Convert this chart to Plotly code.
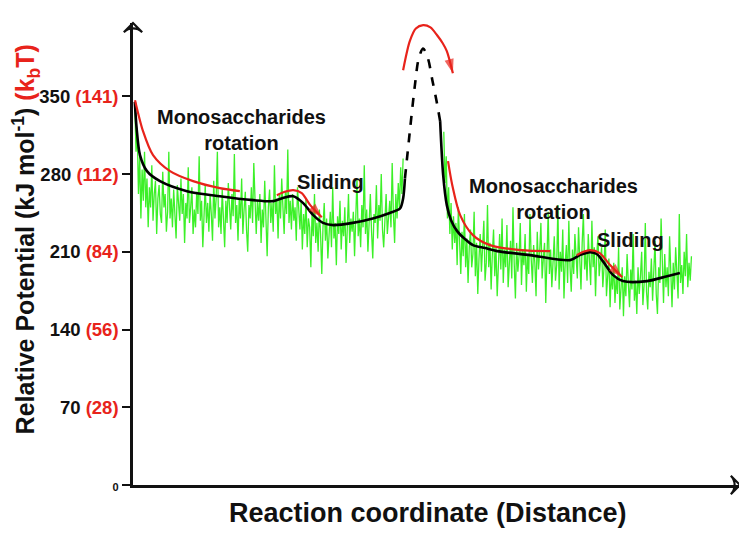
import numpy as np
import plotly.graph_objects as go

# ---------------- data ----------------
# noisy potential (green), segment before the barrier
green1_x_start, green1_x_step = 0.3, 0.2
green1 = [340, 300, 318, 262, 296, 240, 284, 256, 300, 250,
          276, 232, 268, 250, 288, 238, 262, 274, 226, 258,
          270, 244, 236, 282, 250, 262, 228, 246, 300, 240,
          258, 232, 266, 246, 222, 270, 252, 238, 276, 244,
          262, 218, 254, 240, 286, 236, 250, 268, 226, 248,
          232, 264, 244, 296, 238, 256, 214, 250, 270, 236,
          254, 228, 262, 244, 220, 274, 240, 258, 300, 232,
          250, 226, 266, 240, 214, 256, 236, 272, 248, 230,
          262, 242, 298, 236, 252, 220, 258, 240, 276, 226,
          248, 264, 230, 210, 252, 240, 268, 236, 290, 244,
          226, 256, 238, 262, 218, 248, 232, 274, 240, 206,
          250, 266, 236, 254, 228, 288, 244, 258, 222, 262,
          240, 276, 250, 226, 264, 244, 302, 236, 256, 230,
          262, 238, 250, 220, 268, 242, 230, 256, 212, 244,
          226, 258, 214, 240, 232, 196, 246, 224, 262, 218,
          236, 210, 248, 226, 190, 232, 254, 220, 240, 204,
          228, 246, 214, 268, 222, 236, 198, 242, 226, 256,
          212, 238, 224, 250, 200, 232, 262, 218, 240, 228,
          246, 206, 236, 276, 224, 240, 214, 252, 232, 288,
          226, 248, 210, 240, 262, 228, 204, 244, 236, 270,
          222, 252, 238, 280, 230, 214, 246, 262, 226, 240,
          256, 232, 290, 244, 218, 262, 240, 272, 250, 286,
          262, 294]
# noisy potential (green), segment after the barrier
green2_x_start, green2_x_step = 51.2, 0.2
green2 = [318, 272, 296, 240, 268, 226, 254, 212, 242, 218,
          236, 198, 250, 214, 190, 228, 206, 244, 196, 222,
          182, 214, 230, 196, 208, 246, 188, 218, 172, 204,
          226, 192, 210, 238, 184, 200, 252, 196, 218, 176,
          208, 230, 188, 214, 170, 202, 226, 194, 240, 182,
          212, 196, 234, 178, 206, 220, 186, 250, 200, 168,
          218, 192, 206, 236, 180, 212, 198, 226, 174, 208,
          190, 244, 204, 182, 216, 200, 170, 228, 194, 210,
          236, 186, 204, 218, 164, 200, 246, 190, 212, 178,
          206, 224, 184, 198, 252, 176, 210, 192, 230, 168,
          200, 216, 182, 238, 196, 174, 212, 190, 226, 204,
          186, 232, 208, 176, 218, 244, 194, 210, 184, 226,
          202, 180, 238, 196, 214, 170, 208, 224, 188, 200,
          214, 178, 196, 230, 170, 188, 204, 160, 192, 176,
          200, 164, 186, 172, 214, 158, 180, 196, 152, 188,
          170, 208, 182, 160, 194, 176, 226, 166, 184, 154,
          196, 172, 188, 210, 162, 180, 236, 174, 158, 192,
          178, 204, 166, 188, 220, 172, 154, 196, 182, 240,
          186, 164, 208, 178, 196, 170, 224, 184, 160, 200,
          176, 214, 190, 168, 244, 182, 198, 172, 210, 188,
          226, 178, 200, 184, 206]

# smoothed potential (black)
smooth1_x = [0.3, 0.6, 1.15, 2.3, 4.45, 8.9, 14.3, 19.8, 23.1, 24.7, 26.4, 28.0, 29.7, 31.3, 33.0, 36.2, 39.5, 42.3, 44.0, 44.5, 44.8]
smooth1_y = [345, 321, 297, 282.6, 273.6, 264.6, 260, 256.5, 255.6, 258.4, 260, 254, 243, 236, 234, 236, 240, 245, 249, 258, 276]
smooth2_x = [50.6, 51.1, 51.7, 52.4, 53.4, 54.7, 56.0, 58.0, 60.0, 65.4, 72.0, 73.6, 75.3, 76.4, 77.4, 79.1, 80.7, 84.7, 88.0, 90.1]
smooth2_y = [327.6, 279, 252, 238.5, 228.6, 221.4, 216, 213.3, 210.6, 207, 202.5, 207, 209.7, 208, 201.6, 189, 183.6, 183.6, 188, 190.8]

# transition barrier (dashed)
barrier_x = [44.8, 45.6, 46.4, 47.1, 47.8, 48.6, 49.3, 50.0, 50.6]
barrier_y = [276, 318, 358, 385, 393, 384, 365, 346, 327.6]

# red process arrows
rot1_x = [0.33, 1.65, 3.3, 6.1, 9.9, 14.3, 17.6]
rot1_y = [346.5, 318.6, 297, 282.6, 273.6, 267.3, 264.6]
slide1_x = [23.7, 25.0, 26.4, 27.8, 29.2, 31.1]
slide1_y = [261, 264, 265.5, 262.8, 252, 241]
demeth_x = [44.5, 45.6, 46.6, 47.8, 49.0, 50.1, 51.0, 51.7, 52.7]
demeth_y = [373.5, 399.6, 411, 414, 412, 405, 398, 390.6, 370.8]
rot2_x = [51.9, 52.6, 53.9, 56.0, 58.8, 63.8, 68.7]
rot2_y = [291.6, 270, 243, 225, 216, 211.5, 210.6]
slide2_x = [73.1, 74.2, 75.3, 76.9, 78.6, 80.6]
slide2_y = [207, 210, 211.5, 208.8, 198, 187]

# axis ticks
tick_vals = [0, 70, 140, 210, 280, 350]
tick_kj = ["0", "70", "140", "210", "280", "350"]
tick_kbt = ["", "28", "56", "84", "112", "141"]

# ---------------- figure ----------------
RED = "#e8231b"
GREEN = "rgb(60,240,40)"
INK = "#111"
FONT = "Arial, Liberation Sans, sans-serif"
Y_MAX, X_MAX = 416, 100

g1x = green1_x_start + green1_x_step * np.arange(len(green1))
g2x = green2_x_start + green2_x_step * np.arange(len(green2))

fig = go.Figure()
for gx, gy in [(g1x, green1), (g2x, green2)]:
    fig.add_trace(go.Scatter(x=gx, y=gy, mode="lines", line=dict(color=GREEN, width=1.3), hoverinfo="skip"))

for xs, ys in [(smooth1_x, smooth1_y), (smooth2_x, smooth2_y)]:
    fig.add_trace(go.Scatter(x=xs, y=ys, mode="lines",
                             line=dict(color="black", width=2.6, shape="spline", smoothing=0.8)))
fig.add_trace(go.Scatter(x=barrier_x, y=barrier_y, mode="lines",
                         line=dict(color="black", width=2.6, dash="dash", shape="spline", smoothing=0.8)))

for xs, ys, head in [(rot1_x, rot1_y, False), (slide1_x, slide1_y, True), (demeth_x, demeth_y, True),
                     (rot2_x, rot2_y, False), (slide2_x, slide2_y, True)]:
    fig.add_trace(go.Scatter(x=xs, y=ys, mode="lines",
                             line=dict(color=RED, width=2.2, shape="spline", smoothing=0.8)))
    if head:
        fig.add_trace(go.Scatter(x=xs[-2:], y=ys[-2:], mode="markers", cliponaxis=False,
                                 marker=dict(symbol="arrow", size=[0, 15], angleref="previous",
                                             color=RED, line=dict(width=0))))

# axis arrow heads
fig.add_trace(go.Scatter(x=[0], y=[Y_MAX], mode="markers", cliponaxis=False,
                         marker=dict(symbol="arrow-wide-open", size=13, angle=0,
                                     color=INK, line=dict(width=2.2, color=INK))))
fig.add_trace(go.Scatter(x=[X_MAX], y=[0], mode="markers", cliponaxis=False,
                         marker=dict(symbol="arrow-wide-open", size=13, angle=90,
                                     color=INK, line=dict(width=2.2, color=INK))))

ticktext = []
for kj, kb in zip(tick_kj, tick_kbt):
    if kb:
        ticktext.append(f"<b>{kj} <span style='color:{RED}'>({kb})</span></b>")
    else:
        ticktext.append(f"<span style='font-size:11px'><b>{kj}</b></span>")

fig.update_layout(
    width=739, height=532,
    margin=dict(l=125, r=7, t=15, b=55),
    plot_bgcolor="white", paper_bgcolor="white",
    showlegend=False,
    font=dict(family=FONT, color=INK),
    xaxis=dict(range=[0, X_MAX], showgrid=False, zeroline=False, showticklabels=False,
               showline=True, linecolor=INK, linewidth=2.5, ticks=""),
    yaxis=dict(range=[0, Y_MAX], showgrid=False, zeroline=False, showline=True,
               linecolor=INK, linewidth=2.5, ticks="outside", ticklen=8, tickwidth=2,
               tickcolor=INK, tickvals=tick_vals, ticktext=ticktext,
               tickfont=dict(size=18.5, family=FONT, color=INK)),
)

labels = [
    ("Monosaccharides<br>rotation", 17.8, 320),
    ("Sliding", 32.5, 273),
    ("Demethylesterification", 49.75, 425),
    ("Monosaccharides<br>rotation", 69.2, 257.7),
    ("Sliding", 81.9, 220.7),
]
for txt, x, y in labels:
    fig.add_annotation(x=x, y=y, xref="x", yref="y", text=f"<b>{txt}</b>", showarrow=False,
                       font=dict(size=20, family=FONT, color=INK), xanchor="center", yanchor="middle")

fig.add_annotation(x=0.486, y=-0.061, xref="paper", yref="paper", showarrow=False,
                   text="<b>Reaction coordinate (Distance)</b>", font=dict(size=27, family=FONT, color=INK),
                   xanchor="center", yanchor="middle")
fig.add_annotation(x=-0.176, y=0.532, xref="paper", yref="paper", showarrow=False, textangle=-90,
                   text=f"<b>Relative Potential (kJ mol<sup>-1</sup>) <span style='color:{RED}'>(k<sub>b</sub>T)</span></b>",
                   font=dict(size=25, family=FONT, color=INK), xanchor="center", yanchor="middle")

fig.write_html("out.html")
